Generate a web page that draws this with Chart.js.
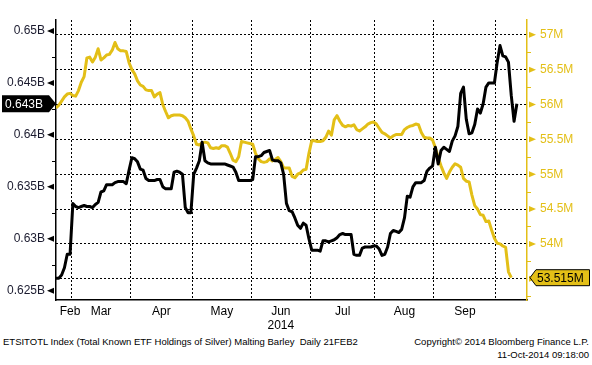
<!DOCTYPE html>
<html><head><meta charset="utf-8">
<script src="https://cdn.jsdelivr.net/npm/chart.js@4/dist/chart.umd.min.js"></script>
<style>
html,body{margin:0;padding:0;background:#fff;}
#wrap{position:relative;width:592px;height:365px;overflow:hidden;background:#fff;}
#cv{position:absolute;left:0;top:0;}
.ft{position:absolute;font-family:"Liberation Sans",Arial,sans-serif;font-size:9.5px;color:#000;white-space:pre;line-height:12.5px;}
</style></head><body>
<div id="wrap">
<canvas id="cv" width="592" height="335"></canvas>
<div class="ft" style="left:3px;top:336px">ETSITOTL Index (Total Known ETF Holdings of Silver) Malting Barley  Daily 21FEB2</div>
<div class="ft" style="right:3px;top:336px;text-align:right">Copyright© 2014 Bloomberg Finance L.P.<br>11-Oct-2014 09:18:00</div>
</div>
<script>
// Business-day index: 0 = 21 Feb 2014
const monthNames  = ['Feb','Mar','Apr','May','Jun','Jul','Aug','Sep'];
const monthMid    = [5, 16, 37.5, 59, 80, 102, 124, 145.5];
const monthBounds = [5.5, 26.5, 48.5, 69.5, 90.5, 113.5, 134.5, 156.5];
const yearText = '2014';
const yearAt = 80;
const leftTicks  = [0.625, 0.63, 0.635, 0.64, 0.645, 0.65];
const leftMinor  = [0.6275, 0.6325, 0.6375, 0.6425, 0.6475];
const rightTicks = [53.5, 54, 54.5, 55, 55.5, 56, 56.5, 57];
const rightMinor = [53.25, 53.75, 54.25, 54.75, 55.25, 55.75, 56.25, 56.75];

// ETSITOTL Index (Total Known ETF Holdings of Silver), billions
const silverETF = [
 .6262,.6262,.6265,.6272,.6285,.6285,.6334,.6331,.6330,.6331,
 .6332,.6331,.6331,.6330,.6333,.6335,.6345,.6346,.6352,.6352,
 .6352,.6354,.6355,.6355,.6355,.6353,.6366,.6378,.6377,.6374,
 .6367,.6366,.6358,.6356,.6356,.6356,.6357,.6357,.6350,.6348,
 .6348,.6348,.6364,.6365,.6364,.6362,.6330,.6325,.6325,.6362,
 .6368,.6375,.6393,.6375,.6373,.6372,.6372,.6372,.6372,.6372,
 .6372,.6371,.6370,.6369,.6364,.6356,.6356,.6356,.6356,.6356,
 .6357,.6379,.6379,.6380,.6383,.6384,.6385,.6376,.6375,.6375,
 .6373,.6362,.6334,.6327,.6326,.6320,.6313,.6310,.6315,.6313,
 .6300,.6289,.6289,.6289,.6288,.6298,.6298,.6297,.6298,.6299,
 .6301,.6304,.6305,.6304,.6304,.6304,.6285,.6284,.6284,.6291,
 .6292,.6292,.6292,.6293,.6293,.6290,.6284,.6285,.6292,.6305,
 .6308,.6307,.6306,.6309,.6320,.6341,.6340,.6350,.6354,.6354,
 .6354,.6356,.6365,.6368,.6370,.6388,.6372,.6385,.6388,.6386,
 .6384,.6394,.6399,.6408,.6440,.6446,.6415,.6401,.6402,.6410,
 .6425,.6421,.6430,.6446,.6450,.6450,.6450,.6470,.6486,.6476,
 .6475,.6470,.6438,.6413,.6430
];
// Malting Barley, millions
const maltingBarley = [
 55.95,55.99,56.05,56.11,56.15,56.16,56.13,56.12,56.20,56.32,
 56.40,56.67,56.68,56.61,56.68,56.80,56.64,56.67,56.71,56.72,
 56.78,56.89,56.80,56.77,56.77,56.76,56.60,56.50,56.44,56.34,
 56.28,56.26,56.21,56.20,56.20,56.11,56.15,56.17,56.00,55.90,
 55.81,55.84,55.85,55.85,55.85,55.84,55.81,55.76,55.65,55.55,
 55.43,55.42,55.45,55.46,55.45,55.38,55.37,55.38,55.37,55.41,
 55.41,55.39,55.30,55.20,55.18,55.25,55.47,55.46,55.45,55.44,
 55.43,55.30,55.22,55.18,55.17,55.18,55.22,55.19,55.21,55.24,
 55.18,55.09,55.09,55.09,54.97,54.95,55.00,55.02,55.06,55.07,
 55.30,55.48,55.48,55.47,55.47,55.48,55.53,55.62,55.56,55.78,
 55.84,55.76,55.70,55.68,55.70,55.69,55.71,55.64,55.62,55.65,
 55.68,55.72,55.74,55.75,55.72,55.66,55.60,55.58,55.55,55.52,
 55.55,55.57,55.57,55.57,55.64,55.67,55.69,55.70,55.72,55.71,
 55.60,55.53,55.52,55.52,55.49,55.38,55.24,55.12,55.02,54.94,
 55.03,55.10,55.15,55.13,55.10,54.94,54.90,54.89,54.70,54.55,
 54.50,54.42,54.41,54.32,54.33,54.20,54.08,54.01,54.00,53.97,
 53.95,53.60,53.515
];

const FONT = '"Liberation Sans", Arial, sans-serif';
const YEL = '#e3bf17';
const X_MAX = 167.6;

const decor = {
  id: 'decor',
  afterDraw(chart) {
    const ctx = chart.ctx;
    const ca = chart.chartArea;
    const sy = chart.scales.y, sy2 = chart.scales.y2, sx = chart.scales.x;
    ctx.save();
    // left axis triangles + minor ticks
    ctx.fillStyle = '#000';
    leftTicks.forEach(v => {
      const y = sy.getPixelForValue(v);
      ctx.beginPath(); ctx.moveTo(ca.left - 9, y); ctx.lineTo(ca.left - 2, y - 3); ctx.lineTo(ca.left - 2, y + 3); ctx.closePath(); ctx.fill();
    });
    ctx.strokeStyle = '#000'; ctx.lineWidth = 1;
    leftMinor.forEach(v => {
      const y = Math.round(sy.getPixelForValue(v)) + 0.5;
      ctx.beginPath(); ctx.moveTo(ca.left - 4, y); ctx.lineTo(ca.left, y); ctx.stroke();
    });
    // right axis triangles + minor ticks
    ctx.fillStyle = YEL; ctx.strokeStyle = YEL;
    rightTicks.forEach(v => {
      const y = sy2.getPixelForValue(v);
      ctx.beginPath(); ctx.moveTo(ca.right + 9, y); ctx.lineTo(ca.right + 2, y - 3); ctx.lineTo(ca.right + 2, y + 3); ctx.closePath(); ctx.fill();
    });
    rightMinor.forEach(v => {
      const y = Math.round(sy2.getPixelForValue(v)) + 0.5;
      ctx.beginPath(); ctx.moveTo(ca.right, y); ctx.lineTo(ca.right + 4, y); ctx.stroke();
    });
    // year label
    ctx.fillStyle = '#000'; ctx.font = '12px ' + FONT; ctx.textAlign = 'center'; ctx.textBaseline = 'middle';
    ctx.fillText(yearText, sx.getPixelForValue(yearAt), 326);
    // last value box, left
    const lb = silverETF[silverETF.length - 1];
    const yl = sy.getPixelForValue(lb);
    ctx.fillStyle = '#000';
    ctx.beginPath();
    ctx.moveTo(2, yl - 8.5); ctx.lineTo(ca.left - 7, yl - 8.5); ctx.lineTo(ca.left, yl);
    ctx.lineTo(ca.left - 7, yl + 8.5); ctx.lineTo(2, yl + 8.5); ctx.closePath(); ctx.fill();
    ctx.fillStyle = '#fff'; ctx.textAlign = 'left';
    ctx.fillText(lb.toFixed(3) + 'B', 5, yl + 0.5);
    // last value box, right
    const ry = maltingBarley[maltingBarley.length - 1];
    const yr = sy2.getPixelForValue(ry);
    ctx.fillStyle = YEL; ctx.strokeStyle = '#000'; ctx.lineWidth = 1;
    ctx.beginPath();
    ctx.moveTo(ca.right + 3, yr); ctx.lineTo(ca.right + 9, yr - 8); ctx.lineTo(589.5, yr - 8);
    ctx.lineTo(589.5, yr + 8); ctx.lineTo(ca.right + 9, yr + 8); ctx.closePath(); ctx.fill(); ctx.stroke();
    ctx.fillStyle = '#000';
    ctx.fillText(ry.toFixed(3) + 'M', ca.right + 10, yr + 0.5);
    ctx.restore();
  }
};

new Chart(document.getElementById('cv').getContext('2d'), {
  type: 'line',
  data: {
    datasets: [
      { label: 'ETSITOTL Index', data: silverETF.map((v, i) => ({x: i, y: v})), yAxisID: 'y', xAxisID: 'x',
        borderColor: '#000', borderWidth: 3, pointRadius: 0, tension: 0, borderJoinStyle: 'round', fill: false },
      { label: 'Malting Barley', data: maltingBarley.map((v, i) => ({x: i, y: v})), yAxisID: 'y2', xAxisID: 'x',
        borderColor: YEL, borderWidth: 3, pointRadius: 0, tension: 0, borderJoinStyle: 'round', fill: false }
    ]
  },
  options: {
    responsive: false, animation: false,
    layout: { padding: { top: 7, left: 0, right: 0, bottom: 0 } },
    plugins: { legend: { display: false }, tooltip: { enabled: false } },
    scales: {
      x: {
        type: 'linear', position: 'bottom', min: 0, max: X_MAX,
        afterBuildTicks: s => { s.ticks = monthMid.map(v => ({value: v})); },
        afterFit: s => { s.height = 35; },
        ticks: { autoSkip: false, maxRotation: 0, padding: 4, color: '#000', font: {family: FONT, size: 12},
                 callback: (v, i) => monthNames[i] },
        grid: { display: false, drawTicks: false },
        border: { display: true, color: '#000', width: 1.5 }
      },
      xg: {
        type: 'linear', position: 'top', min: 0, max: X_MAX,
        afterBuildTicks: s => { s.ticks = monthBounds.map(v => ({value: v})); },
        afterFit: s => { s.height = 0; },
        ticks: { display: false },
        grid: { display: true, drawTicks: false, color: '#000', lineWidth: 1 },
        border: { display: false, dash: [2, 2] }
      },
      y: {
        type: 'linear', position: 'left', min: 0.6241, max: 0.65104,
        afterBuildTicks: s => { s.ticks = leftTicks.map(v => ({value: v})); },
        afterFit: s => { s.width = 56; },
        ticks: { padding: 11, color: '#1a1a2e', font: {family: FONT, size: 12},
                 callback: v => v.toFixed(3).replace(/0$/, '') + 'B' },
        grid: { display: false, drawTicks: false },
        border: { display: true, color: '#000', width: 1.5 }
      },
      y2: {
        type: 'linear', position: 'right', min: 53.195, max: 57.21,
        afterBuildTicks: s => { s.ticks = rightTicks.map(v => ({value: v})); },
        afterFit: s => { s.width = 65; },
        ticks: { padding: 13, color: YEL, font: {family: FONT, size: 12},
                 callback: v => v === 53.5 ? '' : (+v.toFixed(1)) + 'M' },
        grid: { display: true, drawTicks: false, color: '#000', lineWidth: 1 },
        border: { display: true, color: YEL, width: 1.5, dash: [2, 2] }
      }
    }
  },
  plugins: [decor]
});
</script>
</body></html>
